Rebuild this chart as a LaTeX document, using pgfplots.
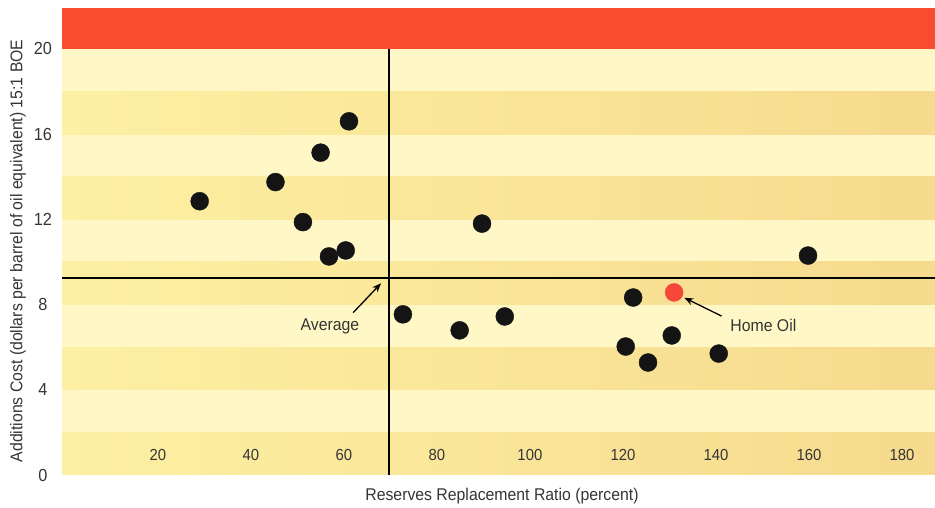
\documentclass[border=0pt]{standalone}
\usepackage{fontspec}
\setmainfont{Liberation Sans}[FakeStretch=0.93]
\usepackage{pgfplots}
\pgfplotsset{compat=1.18}
\usetikzlibrary{arrows.meta}

\definecolor{bandlight}{HTML}{FFF8C6}
\definecolor{banddarkL}{HTML}{FDF0A2}
\definecolor{banddarkR}{HTML}{F6DA8E}
\definecolor{topred}{HTML}{F94B2F}
\definecolor{homered}{HTML}{F5483A}
\definecolor{dot}{HTML}{141414}
\definecolor{txt}{HTML}{353535}

\begin{document}
\begin{tikzpicture}
\useasboundingbox (0,0) rectangle (935pt,508pt);
\begin{axis}[
  at={(62pt,33pt)}, anchor=south west,
  scale only axis, width=873pt, height=467pt,
  xmin=-0.6, xmax=187.1, ymin=0, ymax=21.92,
  axis on top,
  axis line style={draw=none},
  major tick length=0pt,
  axis background/.style={fill=bandlight},
  xtick={20,40,...,180},
  ytick={0,4,...,20},
  /pgf/number format/assume math mode=true,
  xticklabel style={font=\fontsize{16}{16}\selectfont, text=txt, anchor=center, yshift=20pt},
  yticklabel style={font=\fontsize{17.5}{17.5}\selectfont, text=txt, anchor=center, xshift=-19pt},
  xlabel={Reserves Replacement Ratio (percent)},
  ylabel={Additions Cost (dollars per barrel of oil equivalent) 15:1 BOE},
  label style={font=\fontsize{17}{17}\selectfont, text=txt},
  xlabel style={at={(axis description cs:0.504,-0.045)}, anchor=center},
  ylabel style={at={(axis description cs:-0.0504,0.48)}, anchor=center},
  clip=false,
]
% darker alternating bands
\foreach \lo in {0,4,8,12,16}{
  \edef\hi{\the\numexpr\lo+2\relax}
  \addplot[draw=none, left color=banddarkL, right color=banddarkR]
    coordinates {(-0.6,\lo) (187.1,\lo) (187.1,\hi) (-0.6,\hi)} -- cycle;
}
% red cost ceiling band
\addplot[draw=none, fill=topred]
  coordinates {(-0.6,20) (187.1,20) (187.1,21.92) (-0.6,21.92)} -- cycle;

% averages
\addplot[black, line width=1.8pt] coordinates {(-0.6,9.26) (187.1,9.26)};
\addplot[black, line width=1.8pt] coordinates {(69.7,0) (69.7,20)};

% companies
\addplot[only marks, mark=*, mark size=9pt, color=dot] coordinates {
  (29.0,12.85) (45.3,13.75) (55.0,15.13) (61.1,16.60) (51.2,11.87)
  (56.8,10.26) (60.4,10.54) (89.7,11.80) (159.8,10.30)
  (72.7,7.54) (84.9,6.79) (94.6,7.44)
  (122.2,8.33) (120.6,6.03) (125.4,5.28) (130.5,6.55) (140.6,5.70)
};
% Home Oil
\addplot[only marks, mark=*, mark size=9pt, color=homered] coordinates {(131.0,8.57)};

% annotations
\draw[-{Stealth[length=9pt,width=7pt]}, line width=1.3pt] (axis cs:62.0,7.62) -- (axis cs:68.0,9.0);
\node[font=\fontsize{17}{17}\selectfont, text=txt] at (axis cs:57.0,6.96) {Average};
\draw[-{Stealth[length=9pt,width=7pt]}, line width=1.3pt] (axis cs:141.2,7.46) -- (axis cs:133.2,8.32);
\node[font=\fontsize{17}{17}\selectfont, text=txt] at (axis cs:150.2,7.02) {Home Oil};
\end{axis}
\end{tikzpicture}
\end{document}
